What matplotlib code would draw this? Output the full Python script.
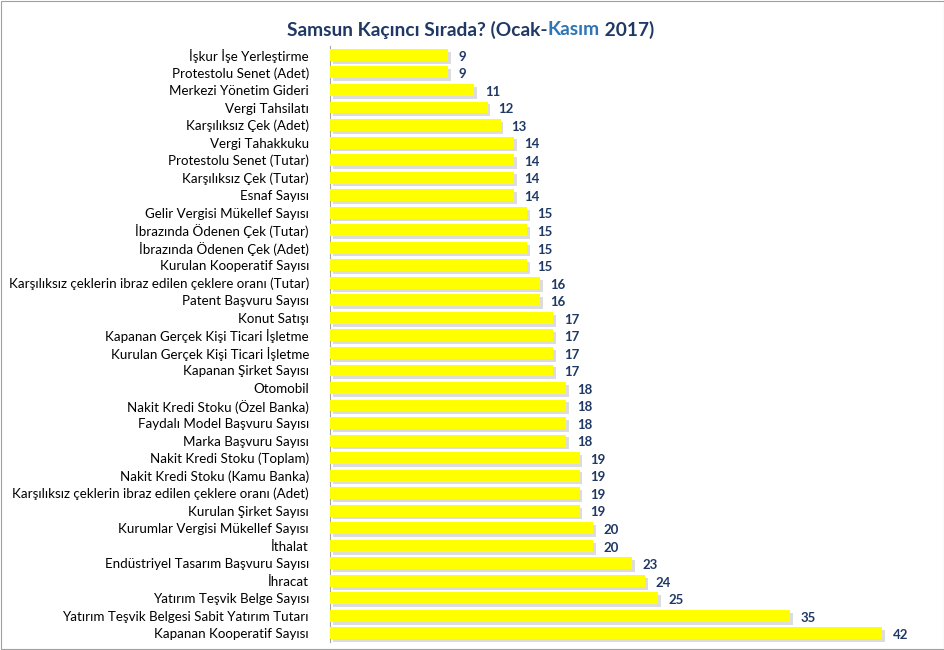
import matplotlib.pyplot as plt
import matplotlib.patheffects as pe
from matplotlib.patches import Rectangle

plt.rcParams['font.family'] = ['Lato', 'DejaVu Sans']

labels = [
    "İşkur İşe Yerleştirme", "Protestolu Senet (Adet)", "Merkezi Yönetim Gideri",
    "Vergi Tahsilatı", "Karşılıksız Çek (Adet)", "Vergi Tahakkuku",
    "Protestolu Senet (Tutar)", "Karşılıksız Çek (Tutar)", "Esnaf Sayısı",
    "Gelir Vergisi Mükellef Sayısı", "İbrazında Ödenen Çek (Tutar)",
    "İbrazında Ödenen Çek (Adet)", "Kurulan Kooperatif Sayısı",
    "Karşılıksız çeklerin ibraz edilen çeklere oranı (Tutar)",
    "Patent Başvuru Sayısı", "Konut Satışı", "Kapanan Gerçek Kişi Ticari İşletme",
    "Kurulan Gerçek Kişi Ticari İşletme", "Kapanan Şirket Sayısı", "Otomobil",
    "Nakit Kredi Stoku (Özel Banka)", "Faydalı Model Başvuru Sayısı",
    "Marka Başvuru Sayısı", "Nakit Kredi Stoku (Toplam)",
    "Nakit Kredi Stoku (Kamu Banka)",
    "Karşılıksız çeklerin ibraz edilen çeklere oranı (Adet)",
    "Kurulan Şirket Sayısı", "Kurumlar Vergisi Mükellef Sayısı", "İthalat",
    "Endüstriyel Tasarım Başvuru Sayısı", "İhracat", "Yatırım Teşvik Belge Sayısı",
    "Yatırım Teşvik Belgesi Sabit Yatırım Tutarı", "Kapanan Kooperatif Sayısı",
]
ranks = [9, 9, 11, 12, 13, 14, 14, 14, 14, 15, 15, 15, 15, 16, 16, 17, 17, 17, 17,
         18, 18, 18, 18, 19, 19, 19, 19, 20, 20, 23, 24, 25, 35, 42]

NAVY = "#1F3864"
fig = plt.figure(figsize=(9.45, 6.5), dpi=100)
ax = fig.add_axes([0.349, 0.012, 0.626, 0.917])

y = list(range(len(labels)))
bars = ax.barh(y, ranks, height=0.68, color="#FFFF00", zorder=3)
for b in bars:
    b.set_path_effects([pe.SimplePatchShadow(offset=(2, -2), shadow_rgbFace="#8C8C8C", alpha=0.3),
                        pe.Normal()])

for yi, v in zip(y, ranks):
    ax.text(v + 0.8, yi + 0.1, str(v), va="center", ha="left", fontsize=9.5,
            fontweight="bold", color=NAVY)

ax.set_ylim(len(labels) - 0.5, -0.5)
ax.set_xlim(0, 45)
ax.set_yticks(y)
ax.set_yticklabels(labels, fontsize=9.6, color="#000000")
ax.tick_params(axis="y", length=0, pad=15)
ax.set_xticks([])
for s in ["top", "right", "bottom"]:
    ax.spines[s].set_visible(False)
ax.spines["left"].set_color("#A6A6A6")
ax.spines["left"].set_linewidth(0.8)

# multi-colour title
t1 = fig.text(0.304, 0.954, "Samsun Kaçıncı Sırada? (Ocak-", fontsize=13.8,
              fontweight="bold", color=NAVY, va="center", ha="left")
t2 = ax.annotate("Kasım", xycoords=t1, xy=(1, 0.5), va="center", ha="left",
                 fontsize=13.8, fontweight="bold", color="#2E75B6", annotation_clip=False)
ax.annotate(" 2017)", xycoords=t2, xy=(1, 0.5), va="center", ha="left",
            fontsize=13.8, fontweight="bold", color=NAVY, annotation_clip=False)

fig.patches.append(Rectangle((0.001, 0.001), 0.998, 0.998, transform=fig.transFigure,
                             fill=False, edgecolor="#A0A0A0", linewidth=0.8))

fig.savefig("out.png", dpi=100)
